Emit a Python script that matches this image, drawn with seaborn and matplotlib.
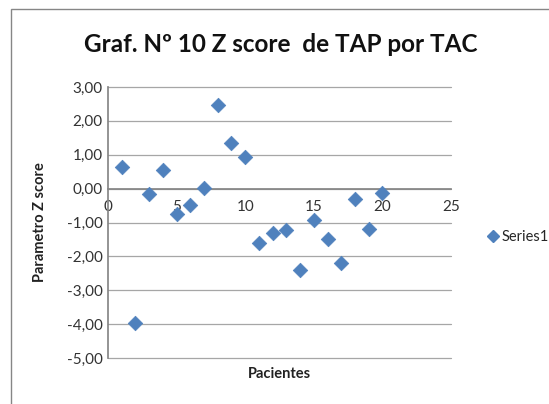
import matplotlib
matplotlib.use("Agg")
import matplotlib.pyplot as plt
import seaborn as sns
import pandas as pd
from matplotlib.patches import Rectangle
from matplotlib.lines import Line2D
from matplotlib.ticker import FuncFormatter

pacientes = list(range(1, 21))
z_score = [0.64, -3.97, -0.17, 0.55, -0.76, -0.47, 0.01, 2.47, 1.35, 0.94,
           -1.60, -1.31, -1.23, -2.41, -0.93, -1.48, -2.19, -0.32, -1.20, -0.13]
series_name = "Series1"
df = pd.DataFrame({"Pacientes": pacientes, "Z": z_score, "serie": series_name})

sns.set_theme(style="white")
plt.rcParams['font.family'] = ['Lato', 'DejaVu Sans']

fig = plt.figure(figsize=(5.49, 4.04), dpi=100)
ax = fig.add_axes([108/549, 1-358/404, (451-108)/549, (358-87)/404])

color = "#4F81BD"
sns.scatterplot(data=df, x="Pacientes", y="Z", ax=ax, marker="D", s=55,
                color=color, edgecolor=color, linewidth=0.5, legend=False, zorder=3)

ax.set_xlim(0, 25)
ax.set_ylim(-5, 3)
ax.set_xticks([0, 5, 10, 15, 20, 25])
ax.set_yticks([-5, -4, -3, -2, -1, 0, 1, 2, 3])
ax.yaxis.set_major_formatter(FuncFormatter(lambda v, p: f"{v:.2f}".replace(".", ",")))
ax.grid(axis="y", color="#a6a6a6", linewidth=0.9)
for gl in ax.get_ygridlines():
    gl.set_clip_on(False)
ax.set_axisbelow(True)
for s in ["top", "right"]:
    ax.spines[s].set_visible(False)
ax.spines["bottom"].set_position(("data", 0))
ax.spines["bottom"].set_color("#868686")
ax.spines["left"].set_color("#868686")
ax.tick_params(axis="both", labelsize=11, colors="#333333", length=0, pad=4)
ax.tick_params(axis="x", pad=8)

ax.set_xlabel("")
ax.set_ylabel("")
fig.text(279/549, 1-374/404, "Pacientes", ha="center", va="center",
         fontsize=10.5, fontweight="bold", color="#222222")
fig.text(40/549, 1-222/404, "Parametro Z score", ha="center", va="center",
         rotation=90, fontsize=10.5, fontweight="bold", color="#222222")
fig.text(281/549, 1-45/404, "Graf. Nº 10 Z score  de TAP por TAC", ha="center",
         va="center", fontsize=17.5, fontweight="bold", color="#111111")

handle = Line2D([], [], marker="D", color=color, linestyle="none", markersize=6)
fig.legend([handle], [series_name], loc="center left",
           bbox_to_anchor=(478/549, 1-237/404), frameon=False, fontsize=10.5,
           handletextpad=0.1, borderpad=0, handlelength=1)

fig.patches.append(Rectangle((11/549, -0.1), 1.2, (1-9/404)+0.1,
                             transform=fig.transFigure, fill=False,
                             edgecolor="#868686", linewidth=1))

fig.savefig("out.png", dpi=100)
